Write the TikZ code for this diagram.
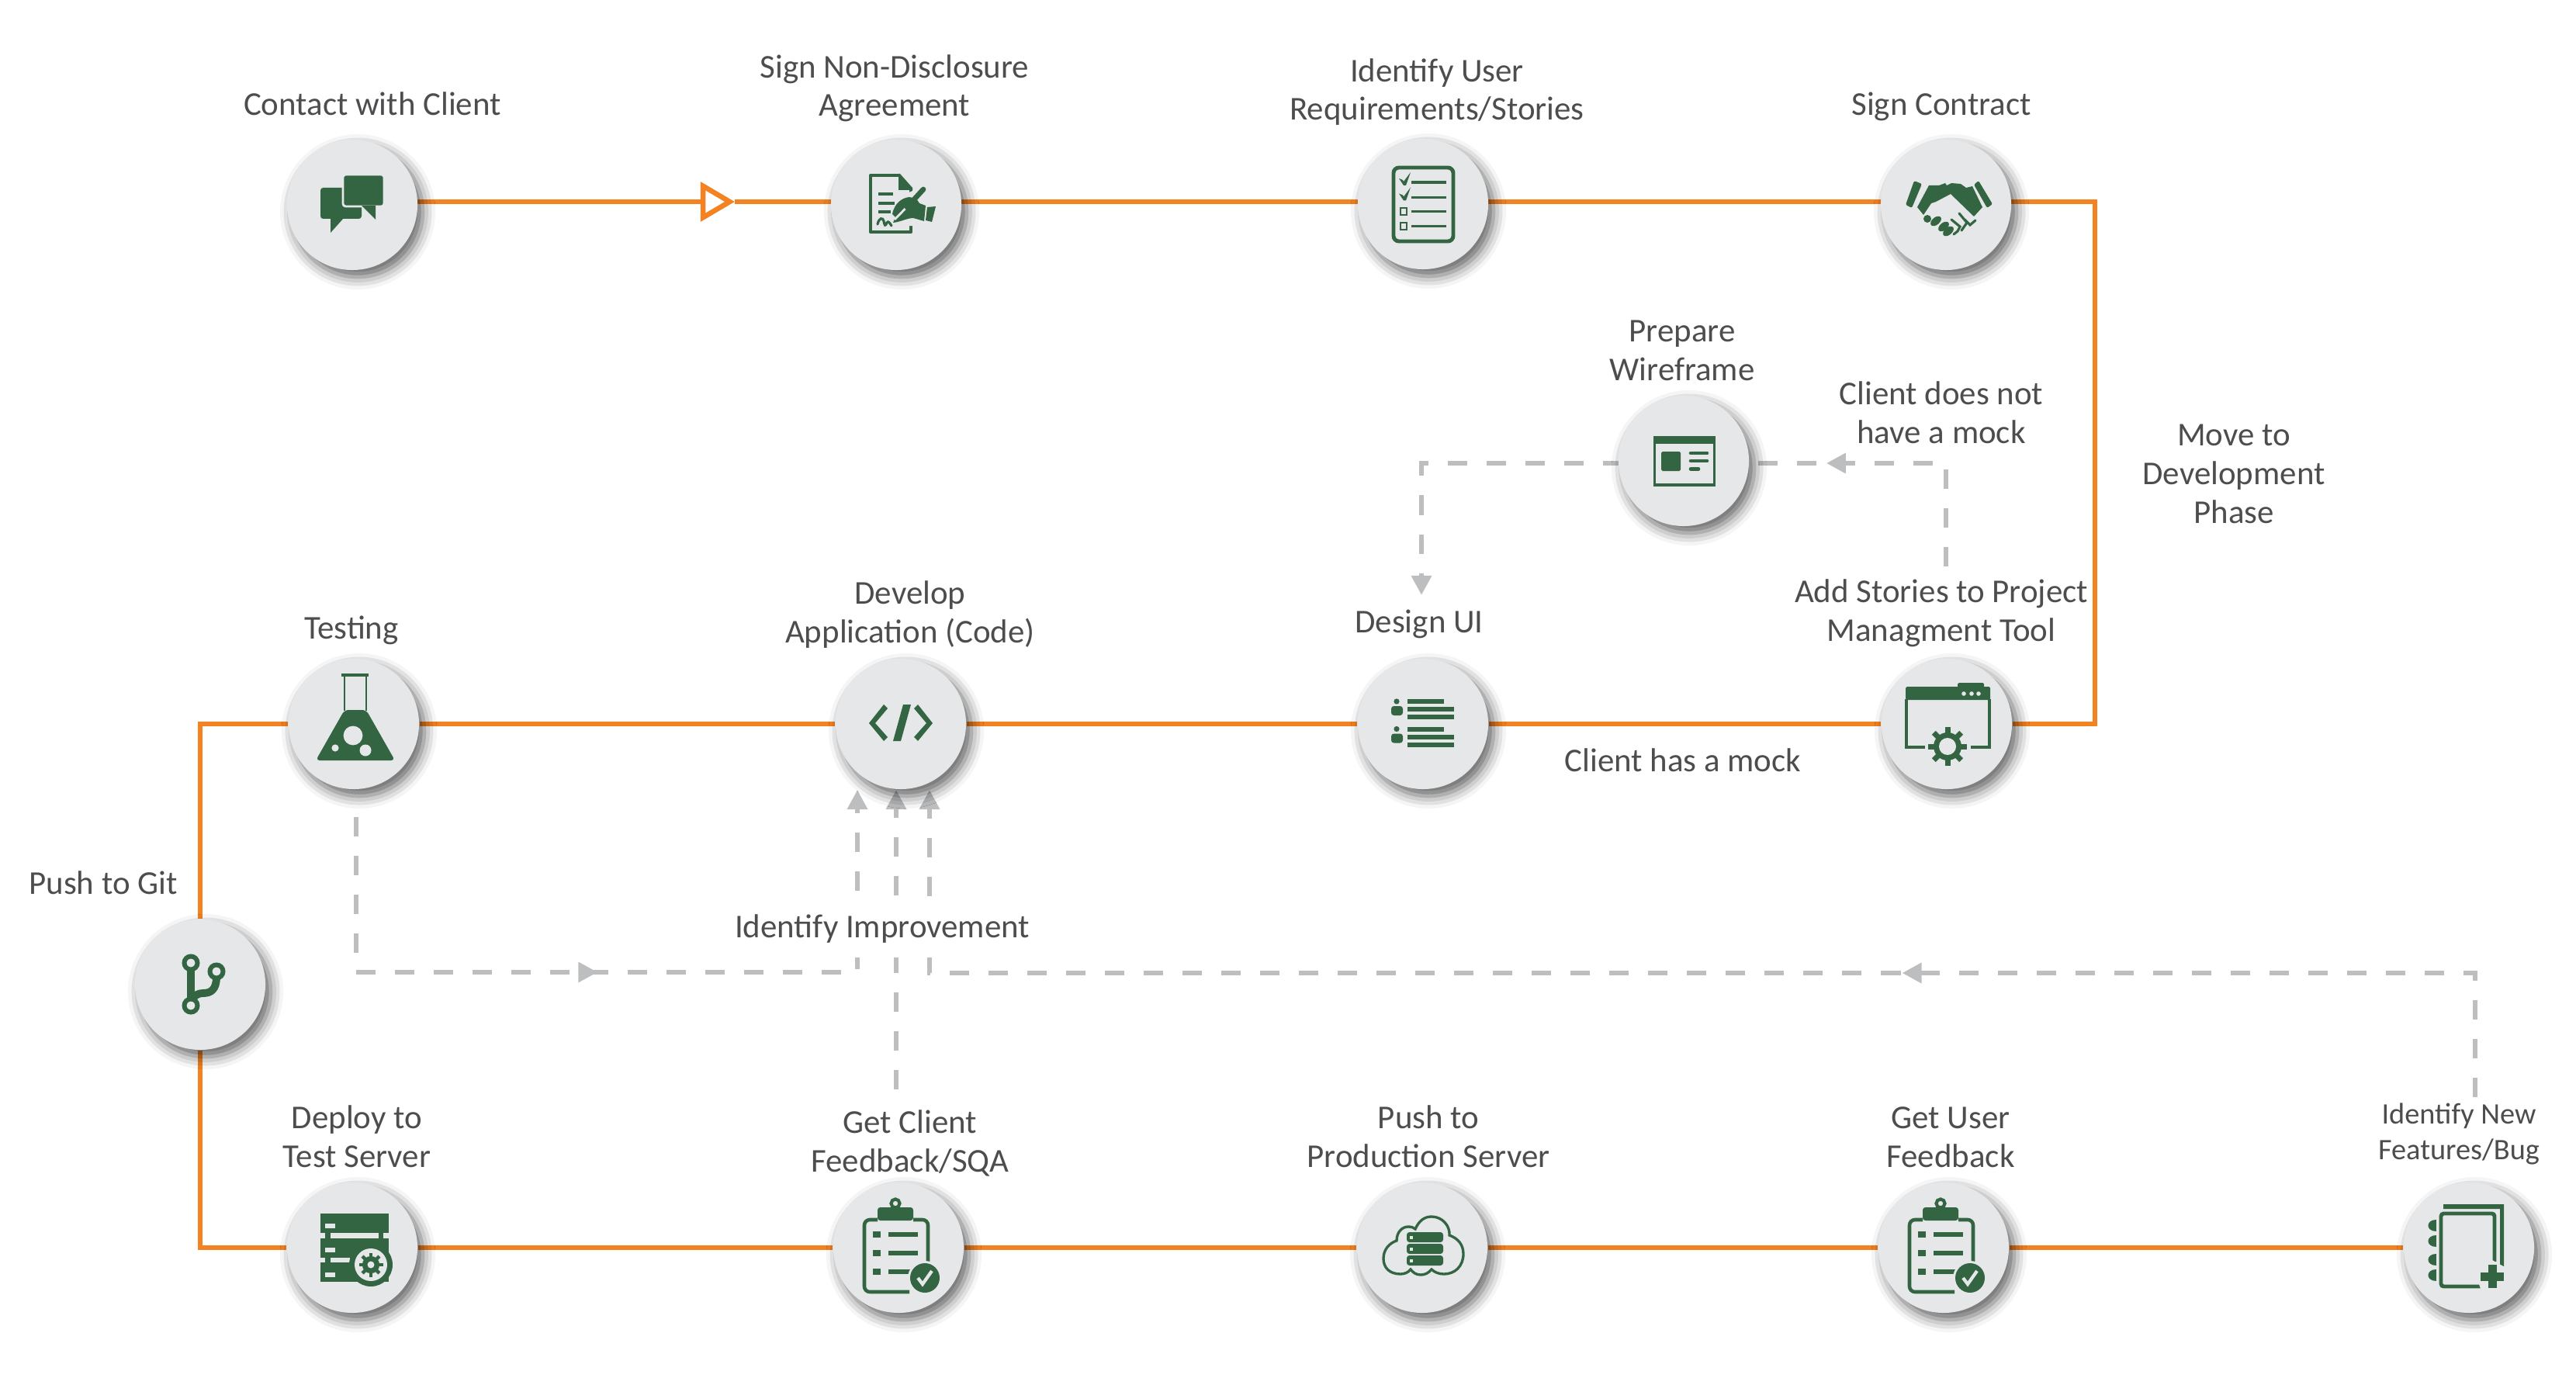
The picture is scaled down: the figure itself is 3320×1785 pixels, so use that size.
\documentclass[tikz,border=0pt]{standalone}
\usepackage{fontspec}
\setmainfont{Carlito}
\usetikzlibrary {arrows.meta, backgrounds, calc}
\usetikzlibrary {decorations.markings, shadows.blur}
\definecolor{discbg}{HTML}{E6E7E8}
\definecolor{flow}{HTML}{F58220}
\definecolor{dashgray}{HTML}{BCBEC0}
\definecolor{icongreen}{HTML}{336543}
\definecolor{labelgray}{HTML}{4D4D4F}
\tikzset{
    x=0.01cm, y=-0.01cm,
    >={Triangle[length=0.25cm, width=0.25cm]},
    stepdisc/.style={circle, fill=discbg, minimum size=1.68cm, inner sep=0pt,
        blur shadow={shadow xshift=0.07cm, shadow yshift=-0.09cm,
            shadow blur radius=0.16cm, shadow opacity=62}},
    steplabel/.style={font=\fontsize{12.2pt}{14.2pt}\selectfont, text=labelgray,
        align=center, inner sep=0pt, anchor=base},
    flowline/.style={draw=flow, line width=1.85pt},
    dashline/.style={draw=dashgray, line width=1.8pt, dash pattern=on 0.25cm off 0.25cm},
    midarrow/.style={postaction={decorate}, decoration={markings,
        mark=at position #1 with {\arrow{>}}}},
    gr/.style={fill=icongreen},
    bg/.style={fill=discbg},
    % icons, coordinates in picture pixels around the disc centre
    iconchat/.pic={
        \fill[gr, rounded corners=1pt] (-41,-22) rectangle (12,18);
        \fill[gr] (-28,17) -- (-28,36) -- (-11,17) -- cycle;
        \fill[gr, rounded corners=1pt, draw=discbg, line width=0.8pt] (-12,-39) rectangle (41,2);
        \fill[gr] (12,1) -- (30,19) -- (30,1) -- cycle;
    },
    iconnda/.pic={
        \draw[icongreen, line width=1.3pt, line join=round] (5,-38) -- (-33,-38) -- (-33,35) -- (19,35) -- (19,-21);
        \fill[gr] (3,-40) -- (5,-40) -- (21,-22) -- (21,-19) -- (3,-19) -- cycle;
        \draw[icongreen, line width=1.3pt] (-23,-14) -- (-4,-14) (-23,-2) -- (-2,-2) (-23,9) -- (-7,9);
        \draw[icongreen, line width=0.9pt, line cap=round] (-24,25) .. controls (-22,16) and (-17,16) .. (-16,21) .. controls (-15,27) and (-14,28) .. (-12,23) .. controls (-10,20) and (-8,24) .. (-6,27);
        \fill[discbg] (12,-14) -- (30,-22) -- (52,4) -- (46,26) -- (0,28) -- (-8,12) -- cycle;
        \fill[gr] (-5,12) .. controls (-2,-3) and (8,-9) .. (17,-10) -- (26,-8) -- (30,-2) -- (38,1) -- (36,21) -- (22,17) .. controls (14,17) and (6,22) .. (-4,23) -- (-1,16) -- cycle;
        \draw[discbg, line width=0.8pt] (-2,19) -- (36,-20);
        \draw[icongreen, line width=1.9pt, line cap=round] (35,-20) -- (14,3);
        \fill[gr] (40,3) -- (51,2) -- (46,22) -- (38,20) -- cycle;
    },
    iconlist/.pic={
        \draw[icongreen, line width=1.4pt, rounded corners=2pt] (-38,-47) rectangle (39,48);
        \foreach \ly in {-28,-8.5,9.5,28.5}{
            \draw[icongreen, line width=1pt] (-15,\ly) -- (30,\ly);
        }
        \foreach \ly in {0,19.5}{
            \fill[gr] (-31,-33+\ly) -- (-26,-31+\ly) -- (-25,-29+\ly) -- (-16,-41+\ly) -- (-22,-24+\ly) -- (-25,-24+\ly) -- cycle;
        }
        \draw[icongreen, line width=0.6pt] (-29,5) rectangle (-21,14) (-29,24) rectangle (-21,33);
    },
    iconhands/.pic={
        \fill[gr, rounded corners=0.6pt] (-41,-31) -- (-31,-27) -- (-44,4) -- (-52,0) -- cycle;
        \fill[gr, rounded corners=0.6pt] (42,-31) -- (36,-26) -- (53,4) -- (60,-1) -- cycle;
        \fill[gr] (-22,-25) -- (-9,-25) -- (-1,-28) -- (1,-25) -- (7,-28) -- (19,-27) -- (26,-22) -- (34,-24) -- (47,3) -- (36,15) -- (6,-14) -- (-13,-4) -- (-19,-2) -- (-29,13) -- (-37,3) -- cycle;
        \fill[gr] (-24,18) circle (5);
        \foreach \fx/\fy in {-13/21, -3/28, 3/34}{
            \fill[gr, rotate around={40:(\fx,\fy)}] (\fx,\fy) ellipse (8 and 4.8);
        }
        \draw[icongreen, line width=0.9pt, line cap=round] (7,19) -- (18,28) -- (15,34) -- (10,38)
            (17,11) -- (27,23) -- (20,33) (38,20) -- (31,26) -- (24,19);
    },
    iconframe/.pic={
        \fill[gr] (-39,-32) rectangle (41,33);
        \fill[bg] (-36,-22) rectangle (38,29);
        \fill[gr, rounded corners=0.5pt] (-29,-12) rectangle (-4,13);
        \foreach \lx/\ly in {32/-10, 32/0, 21/10.5}{
            \draw[icongreen, line width=1.3pt, line cap=round] (9,\ly) -- (\lx-2,\ly);
        }
    },
    iconpeople/.pic={
        \foreach \ly in {0,35.5}{
            \fill[gr] (-34,-29+\ly) circle (3.6);
            \fill[gr, rounded corners=1pt] (-41,-23+\ly) rectangle (-26,-11+\ly);
            \fill[gr] (-20,-32+\ly) rectangle (27,-26+\ly);
            \fill[gr] (-20,-22+\ly) rectangle (40,-16+\ly);
            \fill[gr] (-20,-12+\ly) rectangle (40,-6+\ly);
        }
    },
    gearmark/.pic={
        \foreach \a in {0,45,...,315}{
            \fill[gr, rotate=\a] (-3.5,-10) rectangle (3.5,-25);
        }
        \fill[gr] (0,0) circle (18);
        \fill[bg] (0,0) circle (11);
    },
    iconwindow/.pic={
        \fill[gr, rounded corners=0.5pt] (14,-53) rectangle (48,-40);
        \fill[gr, rounded corners=0.5pt] (-53,-48) rectangle (56,-31);
        \foreach \lx in {22,32,41}{
            \fill[discbg] (\lx,-39) circle (2.8);
        }
        \draw[icongreen, line width=0.9pt] (-28,30) -- (-52,30) -- (-52,-32) (55,-32) -- (55,30) -- (31,30);
        \pic at (1,29) {gearmark};
    },
    iconflask/.pic={
        \fill[gr] (-16,-65) rectangle (19,-61);
        \draw[icongreen, line width=0.8pt] (-12,-62) -- (-12,-17) (16,-62) -- (16,-17);
        \fill[gr, rounded corners=1.5pt] (-12,-18) -- (16,-18) -- (53,47) -- (-49,47) -- cycle;
        \fill[bg] (-1,15) circle (12.4);
        \fill[bg] (-24,31) circle (4.6);
        \fill[bg] (15,34) circle (7.5);
    },
    iconcode/.pic={
        \fill[gr] (-22,-25) -- (-17,-20) -- (-33,-1) -- (-17,17) -- (-22,22) -- (-41,-1) -- cycle;
        \fill[gr] (22,-25) -- (17,-20) -- (33,-1) -- (17,17) -- (22,22) -- (41,-1) -- cycle;
        \fill[gr] (3,-25) -- (13,-25) -- (0,22) -- (-10,22) -- cycle;
    },
    icongit/.pic={
        \draw[icongreen, line width=3.1pt] (-12,-24) -- (-12,24);
        \draw[icongreen, line width=2.8pt] (21,-10) .. controls (21,6) and (14,11) .. (4,11) .. controls (-2,11) and (-6,13) .. (-11,19);
        \foreach \rx/\ry in {-12/-28, 21/-17, -12/27}{
            \draw[icongreen, line width=1.7pt, fill=discbg] (\rx,\ry) circle (8.5);
        }
    },
    iconserver/.pic={
        \fill[gr] (-41,-44) rectangle (47,44);
        % slots
        \fill[bg] (-28,-19) rectangle (34,-12);
        \fill[bg] (-41,-19) rectangle (-35,-12);
        \fill[bg] (40,-19) rectangle (47,-12);
        \fill[bg] (-28,13) rectangle (-3,19);
        \fill[bg] (-41,13) rectangle (-35,19);
        \foreach \ly in {-28,3,35}{
            \fill[bg] (-35,\ly-3.2) rectangle (-22,\ly+3.2);
        }
        \fill[gr] (24,22) circle (28);
        \fill[bg] (24,22) circle (21);
        \pic[scale=0.62] at (24,22) {gearmark};
        \fill[gr] (24,22) circle (8);
        \fill[bg] (24,22) circle (4.5);
    },
    iconclip/.pic={
        \draw[icongreen, line width=1.3pt, rounded corners=2pt] (14,57) -- (-44,57) -- (-44,-36) -- (-27,-36) (19,-36) -- (38,-36) -- (38,22);
        \draw[icongreen, line width=1.2pt] (-4,-57) circle (5.5);
        \fill[gr, rounded corners=1pt] (-27,-52) rectangle (19,-35);
        \foreach \ly in {-17,7,31}{
            \fill[gr] (-33,\ly-4) rectangle (-23,\ly+4);
            \fill[gr] (-13,\ly-3) rectangle (25,\ly+3);
        }
        \fill[discbg] (34,39) circle (22);
        \fill[gr] (34,39) circle (19);
        \draw[discbg, line width=1.2pt] (25,39) -- (31,47) -- (43,30);
    },
    iconcloud/.pic={
        \draw[icongreen, line width=0.95pt] (-28,34) .. controls (-42,34) and (-50,26) .. (-50,14)
            .. controls (-50,2) and (-42,-6) .. (-33,-9) .. controls (-33,-20) and (-26,-27) .. (-18,-27)
            .. controls (-14,-27) and (-11,-26) .. (-9,-24) .. controls (-4,-35) and (3,-40) .. (12,-40)
            .. controls (26,-40) and (36,-28) .. (35,-16) .. controls (46,-12) and (53,-4) .. (53,8)
            .. controls (53,24) and (42,34) .. (28,34) .. controls (22,34) and (16,32) .. (12,28)
            .. controls (8,33) and (3,35) .. (-2,35) .. controls (-8,35) and (-12,32) .. (-15,28)
            .. controls (-18,32) and (-23,34) .. (-28,34) -- cycle;
        \foreach \ly in {-20,-5,10}{
            \fill[gr, rounded corners=1pt] (-20,\ly) rectangle (27,\ly+13);
            \fill[bg] (-16,\ly+4.5) rectangle (-12,\ly+8.5);
        }
    },
    iconpages/.pic={
        \fill[gr] (-33,-56) -- (45,-56) -- (45,28) -- (40,22) -- (40,-50) -- (-33,-50) -- cycle;
        \draw[icongreen, line width=1.4pt, rounded corners=1pt] (17,50) -- (-36,50) -- (-36,-44) -- (33,-44) -- (33,18);
        \foreach \ly in {-29,-9,15,35}{
            \fill[gr] (-42,\ly-7.5) .. controls (-56,\ly-7.5) and (-56,\ly+7.5) .. (-42,\ly+7.5) -- cycle;
        }
        \fill[bg] (10,38) -- (30,16) -- (48,26) -- (48,56) -- (16,56) -- cycle;
        \fill[gr] (25,22) rectangle (36,52);
        \fill[gr] (15,32) rectangle (45,43);
    },
}
\begin{document}
\begin{tikzpicture}
    \useasboundingbox (0,0) rectangle (3320,1785);
    % discs
    \node[stepdisc] (contact) at (454,264) {};
    \node[stepdisc] (nda) at (1155,264) {};
    \node[stepdisc] (userreq) at (1834,263) {};
    \node[stepdisc] (deal) at (2508,264) {};
    \node[stepdisc] (wire) at (2170,594) {};
    \node[stepdisc] (stories) at (2509,933) {};
    \node[stepdisc] (design) at (1834,933) {};
    \node[stepdisc] (dev) at (1161,933) {};
    \node[stepdisc] (testing) at (456,933) {};
    \node[stepdisc] (git) at (258,1269) {};
    \node[stepdisc] (deploy) at (454,1608) {};
    \node[stepdisc] (sqa) at (1158,1608) {};
    \node[stepdisc] (prod) at (1833,1608) {};
    \node[stepdisc] (feedback) at (2505,1608) {};
    \node[stepdisc] (newfeat) at (3182,1608) {};
    % icons
    \pic at (contact) {iconchat};
    \pic at (nda) {iconnda};
    \pic at (userreq) {iconlist};
    \pic at (deal) {iconhands};
    \pic at (wire) {iconframe};
    \pic at (stories) {iconwindow};
    \pic at (design) {iconpeople};
    \pic at (dev) {iconcode};
    \pic at (testing) {iconflask};
    \pic at (git) {icongit};
    \pic at (deploy) {iconserver};
    \pic at (sqa) {iconclip};
    \pic at (prod) {iconcloud};
    \pic at (feedback) {iconclip};
    \pic at (newfeat) {iconpages};
    % labels
    \node[steplabel] (tcontact) at (480,149) {Contact with Client};
    \node[steplabel] (tnda) at (1153,150) {Sign Non-Disclosure\\Agreement};
    \node[steplabel] (treq) at (1852,155) {Identify User\\Requirements/Stories};
    \node[steplabel] (tdeal) at (2502,149) {Sign Contract};
    \node[steplabel] (twire) at (2168,490) {Prepare\\Wireframe};
    \node[steplabel] (tnomock) at (2502,571) {Client does not\\have a mock};
    \node[steplabel] (tmove) at (2879,674) {Move to\\Development\\Phase};
    \node[steplabel] (tstories) at (2502,826) {Add Stories to Project\\Managment Tool};
    \node[steplabel] (tdesign) at (1829,815) {Design UI};
    \node[steplabel] (tdev) at (1173,828) {Develop\\Application (Code)};
    \node[steplabel] (ttest) at (453,823) {Testing};
    \node[steplabel] (tmock) at (2169,994) {Client has a mock};
    \node[steplabel] (tgit) at (133,1152) {Push to Git};
    \node[steplabel, fill=white, minimum height=0.66cm, text depth=0.16cm] (timprove) at (1137,1208) {Identify Improvement};
    \node[steplabel] (tdeploy) at (460,1504) {Deploy to\\Test Server};
    \node[steplabel] (tsqa) at (1173,1510) {Get Client\\Feedback/SQA};
    \node[steplabel] (tprod) at (1841,1504) {Push to\\Production Server};
    \node[steplabel] (tfeed) at (2514,1504) {Get User\\Feedback};
    \node[steplabel, font=\fontsize{10.9pt}{12.8pt}\selectfont] (tfeat) at (3169,1494) {Identify New\\Features/Bug};
    % free ends of the connectors
    \coordinate (topline) at (2700,260);
    \coordinate (tritip) at (947,260);
    \coordinate (wirehub) at (2170,597);
    \coordinate (storytop) at (2508,730);
    \coordinate (uitip) at (1832,767);
    \coordinate (testfoot) at (459,1053);
    \coordinate (bendA) at (1105,1253);
    \coordinate (devtipA) at (1105,1018);
    \coordinate (sqatop) at (1155,1404);
    \coordinate (devtipB) at (1155,1018);
    \coordinate (featfoot) at (3190,1414);
    \coordinate (bendC) at (1198,1254);
    \coordinate (devtipC) at (1198,1018);
    \begin{scope}[on background layer]
        % orange flow
        \draw[flowline, -{Triangle[open, length=0.44cm, width=0.50cm]}] (contact |- topline) -- (tritip);
        \draw[flowline] (tritip) -- (nda |- topline);
        \draw[flowline] (nda |- topline) -- (userreq |- topline);
        \draw[flowline] (userreq |- topline) -- (deal |- topline);
        \draw[flowline] (deal |- topline) -- (topline) |- (stories);
        \draw[flowline] (stories) -- (design);
        \draw[flowline] (design) -- (dev);
        \draw[flowline] (dev) -- (testing);
        \draw[flowline] (testing) -| (git);
        \draw[flowline] (git) |- (deploy);
        \draw[flowline] (deploy) -- (sqa);
        \draw[flowline] (sqa) -- (prod);
        \draw[flowline] (prod) -- (feedback);
        \draw[flowline] (feedback) -- (newfeat);
        % dashed feedback paths
        \draw[dashline, midarrow=2.87cm, ->] (storytop) |- (wirehub) -| (uitip);
        \draw[dashline, midarrow=5.11cm, ->] (testfoot) |- (bendA) -- (devtipA);
        \draw[dashline, ->] (sqatop) -- (devtipB);
        \draw[dashline, midarrow=8.98cm, ->] (featfoot) |- (bendC) -- (devtipC);
    \end{scope}
\end{tikzpicture}
\end{document}
